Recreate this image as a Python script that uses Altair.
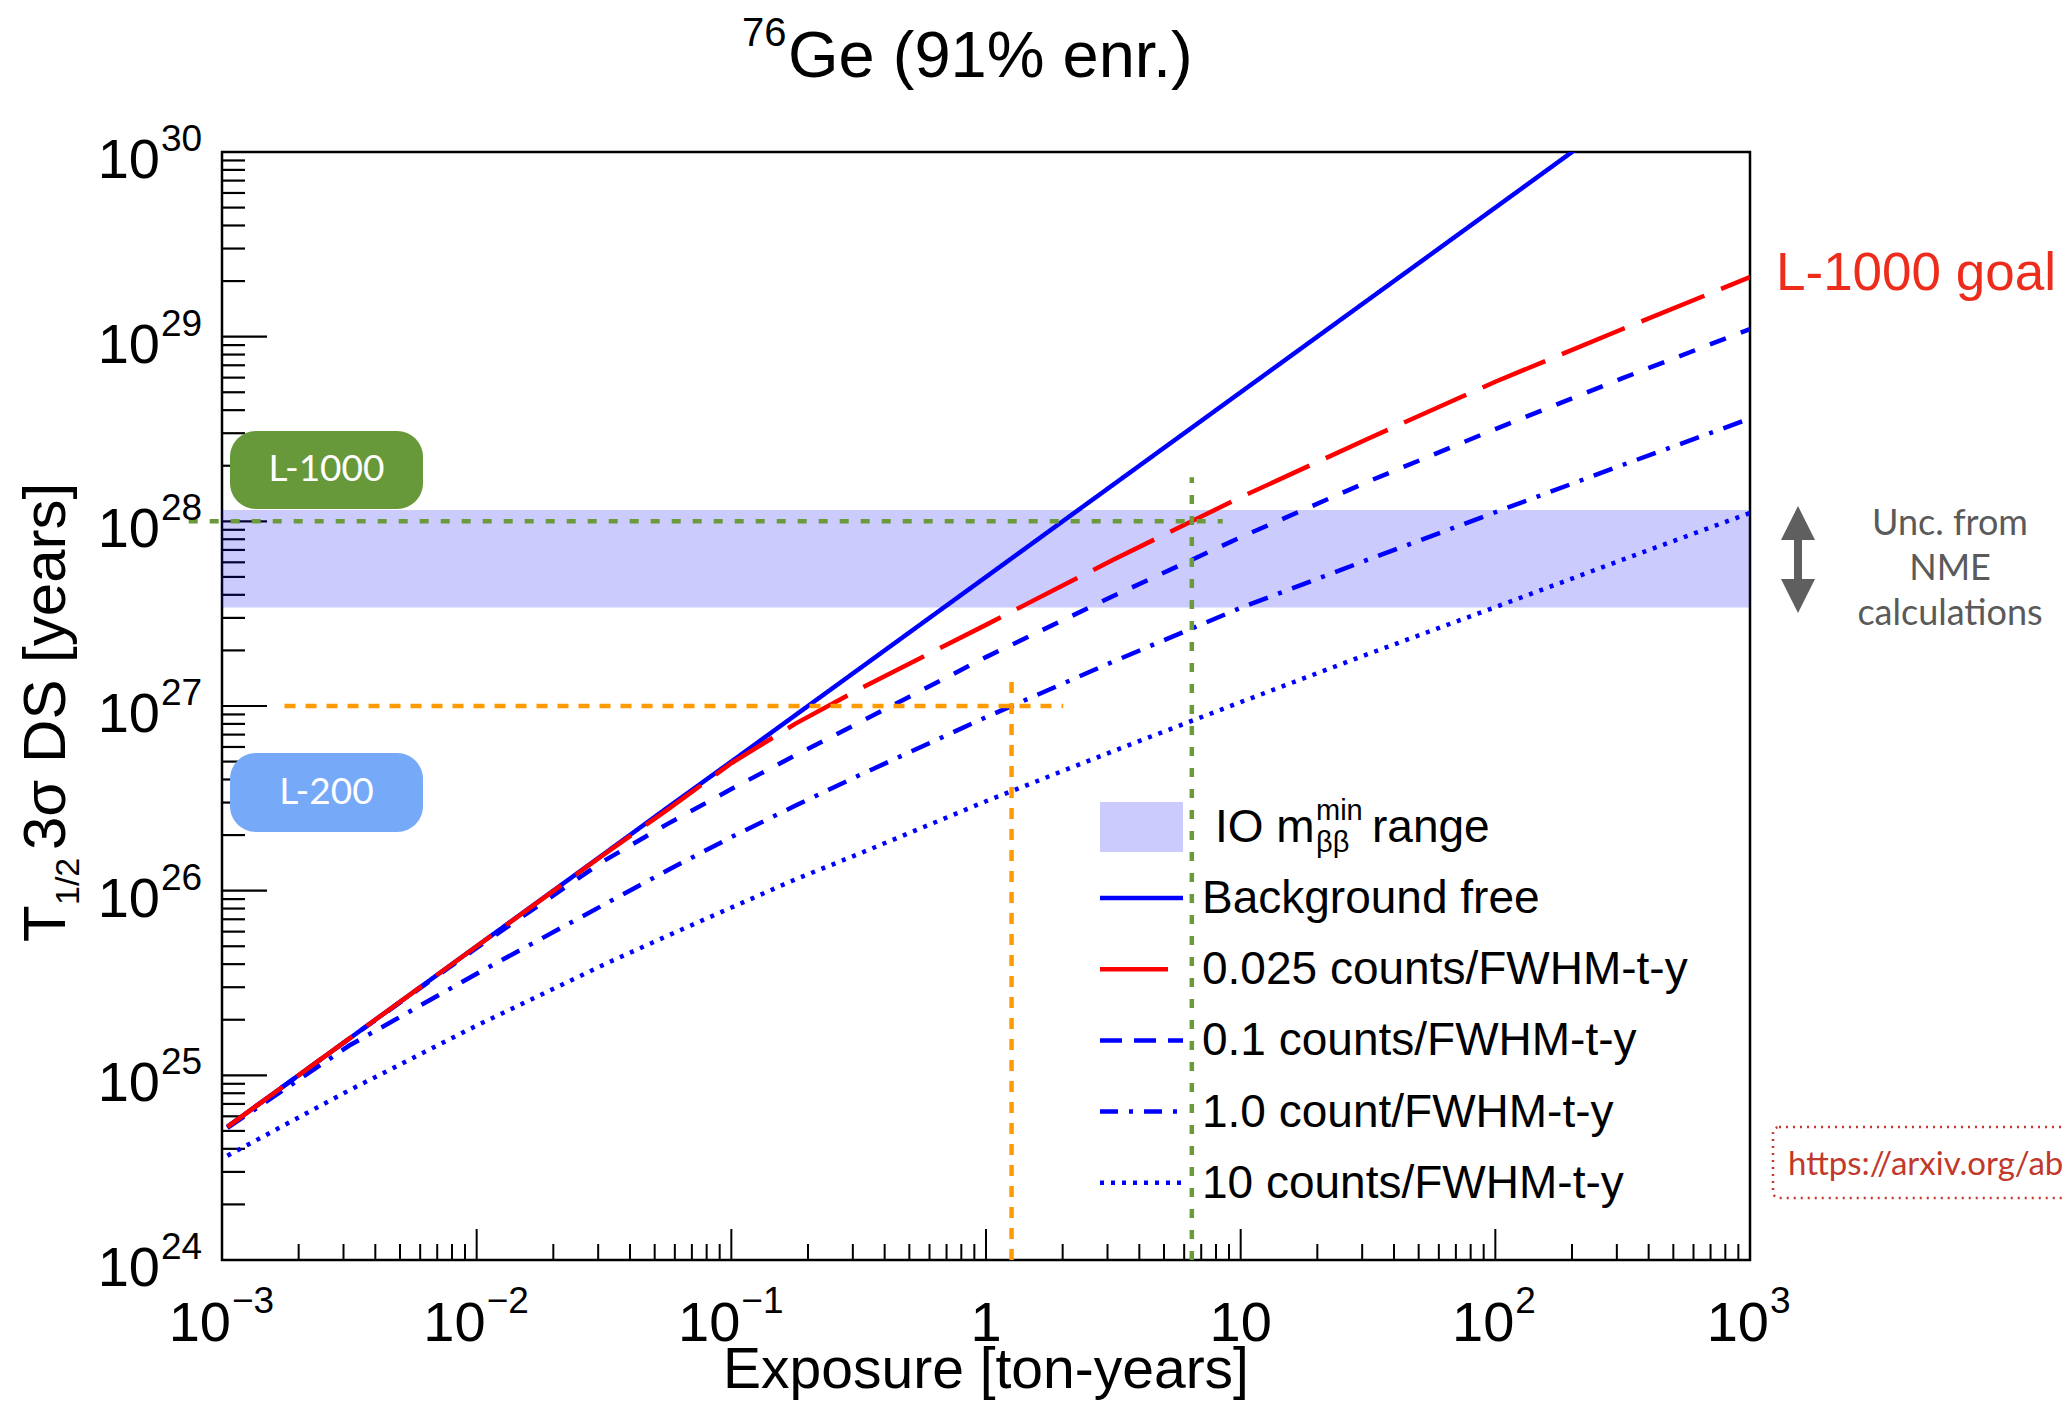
import altair as alt
import pandas as pd

# ---------------- data ----------------
exposure = [1.05e-3, 3.16e-3, 1.0e-2, 3.16e-2, 5.62e-2, 1.0e-1, 1.78e-1, 3.16e-1,
            1.0, 3.16, 10.0, 31.6, 100.0, 316.0, 1000.0]
t_bkg_free = [5.26e24, 1.58e25, 5.0e25, 1.58e26, 2.82e26, 5.0e26, 8.9e26, 1.58e27,
              5.0e27, 1.58e28, 5.0e28, 1.58e29, 5.0e29, 1.58e30, 5.0e30]
t_bkg_0025 = [5.26e24, 1.58e25, 5.0e25, 1.57e26, 2.75e26, 4.9e26, 8.0e26, 1.23e27,
              2.75e27, 6.2e27, 1.35e28, 2.8e28, 5.7e28, 1.10e29, 2.1e29]
t_bkg_01 = [5.26e24, 1.58e25, 4.9e25, 1.45e26, 2.3e26, 3.55e26, 5.4e26, 8.1e26,
            1.84e27, 3.94e27, 8.2e27, 1.64e28, 3.16e28, 5.96e28, 1.10e29]
t_bkg_1 = [5.19e24, 1.45e25, 3.55e25, 8.4e25, 1.29e26, 1.95e26, 2.88e26, 4.2e26,
           8.7e26, 1.74e27, 3.4e27, 6.2e27, 1.12e28, 2.02e28, 3.6e28]
t_bkg_10 = [3.67e24, 8.3e24, 1.86e25, 3.98e25, 5.7e25, 8.1e25, 1.15e26, 1.58e26,
            3.05e26, 5.7e26, 1.05e27, 1.91e27, 3.43e27, 6.2e27, 1.11e28]

series_names = ["Background free", "0.025 counts/FWHM-t-y", "0.1 counts/FWHM-t-y",
                "1.0 count/FWHM-t-y", "10 counts/FWHM-t-y"]
series_values = [t_bkg_free, t_bkg_0025, t_bkg_01, t_bkg_1, t_bkg_10]

io_band_low = 3.42e27
io_band_high = 1.15e28

# reference (goal) lines: L-1000 (green) and L-200 (orange)
l1000_h = {"E0": 7.4e-4, "E1": 8.5, "T0": 1e28, "T1": 1e28}
l1000_v = {"E0": 6.43, "E1": 6.43, "T0": 1e24, "T1": 1.73e28}
l200_h = {"E0": 1.76e-3, "E1": 2.01, "T0": 1e27, "T1": 1e27}
l200_v = {"E0": 1.26, "E1": 1.26, "T0": 1e24, "T1": 1.5e27}

x_tick_values = [1e-3, 1e-2, 1e-1, 1.0, 10.0, 1e2, 1e3]
x_tick_base = ["10", "10", "10", "1", "10", "10", "10"]
x_tick_exp = ["\u22123", "\u22122", "\u22121", "", "", "2", "3"]
y_tick_exponents = [24, 25, 26, 27, 28, 29, 30]

# ---------------- styles ----------------
W, H = 1528, 1108
ARIAL = "Liberation Sans, Arial, Helvetica, sans-serif"
GILL = "Lato, Open Sans, sans-serif"

series_colors = ["#0000ff", "#ff0000", "#0000ff", "#0000ff", "#0000ff"]
series_dash = [[1, 0], [68, 18], [17, 16], [20, 11, 4, 11], [4, 7]]
legend_dash = [[1, 0], [68, 18], [22, 12], [18, 11, 4, 11], [4, 7]]
GREEN = "#6a9a3a"
ORANGE = "#ff9a00"
BAND = "#0a0af5"

xs = alt.Scale(type="log", domain=[1e-3, 1e3], nice=False)
ys = alt.Scale(type="log", domain=[1e24, 1e30], nice=False)


def X(f):
    return alt.X(f, type="quantitative", scale=xs, axis=None)


def Y(f):
    return alt.Y(f, type="quantitative", scale=ys, axis=None)


one = pd.DataFrame({"d": [0]})


def txt(s, x, y, size, color="black", font=ARIAL, align="left",
        baseline="alphabetic", angle=None, dx=0, dy=0):
    kw = dict(text=s, fontSize=size, fill=color, font=font, align=align,
              baseline=baseline, dx=dx, dy=dy)
    if angle is not None:
        kw["angle"] = angle
    return alt.Chart(one).mark_text(**kw).encode(x=alt.value(x), y=alt.value(y))


layers = []

# ---------------- ticks (inside the frame) ----------------
y_major = pd.DataFrame({"T": [10.0 ** e for e in y_tick_exponents]})
y_minor = pd.DataFrame({"T": [k * 10.0 ** e for e in y_tick_exponents[:-1] for k in range(2, 10)]})
x_major = pd.DataFrame({"E": x_tick_values})
x_minor = pd.DataFrame({"E": [k * v for v in x_tick_values[:-1] for k in range(2, 10)]})

layers.append(alt.Chart(y_major).mark_rule(color="black", strokeWidth=2.2).encode(
    y=Y("T"), x=alt.value(0), x2=alt.value(45)))
layers.append(alt.Chart(y_minor).mark_rule(color="black", strokeWidth=2.2).encode(
    y=Y("T"), x=alt.value(0), x2=alt.value(23)))
layers.append(alt.Chart(x_major).mark_rule(color="black", strokeWidth=2).encode(
    x=X("E"), y=alt.value(H), y2=alt.value(H - 31)))
layers.append(alt.Chart(x_minor).mark_rule(color="black", strokeWidth=2).encode(
    x=X("E"), y=alt.value(H), y2=alt.value(H - 16)))

# ---------------- IO band ----------------
band_df = pd.DataFrame({"E0": [1e-3], "E1": [1e3], "T0": [io_band_low], "T1": [io_band_high]})
layers.append(alt.Chart(band_df).mark_rect(color=BAND, opacity=0.21).encode(
    x=X("E0"), x2=alt.X2("E1"), y=Y("T0"), y2=alt.Y2("T1")))

# ---------------- badges ----------------
layers.append(alt.Chart(one).mark_rect(color="#67993a", cornerRadius=26).encode(
    x=alt.value(8), x2=alt.value(201), y=alt.value(279), y2=alt.value(357)))
layers.append(alt.Chart(one).mark_rect(color="#76a9f8", cornerRadius=26).encode(
    x=alt.value(8), x2=alt.value(201), y=alt.value(601), y2=alt.value(680)))
layers.append(txt("L-1000", 104.5, 318, 37, color="white", font=GILL, align="center", baseline="middle"))
layers.append(txt("L-200", 104.5, 641, 37, color="white", font=GILL, align="center", baseline="middle"))

# ---------------- curves ----------------
rows = []
for name, vals in zip(series_names, series_values):
    for e, t in zip(exposure, vals):
        rows.append({"series": name, "E": e, "T": t})
curves_df = pd.DataFrame(rows)

draw_order = [0, 2, 3, 4, 1]
for i in draw_order:
    layers.append(
        alt.Chart(curves_df).transform_filter(alt.datum.series == series_names[i])
        .mark_line(clip=True, color=series_colors[i], strokeDash=series_dash[i], strokeWidth=4.5)
        .encode(x=X("E"), y=Y("T"))
    )

# ---------------- goal reference lines ----------------
green_df = pd.DataFrame([l1000_h, l1000_v])
orange_df = pd.DataFrame([l200_h, l200_v])
layers.append(alt.Chart(green_df).mark_rule(color=GREEN, strokeWidth=4.5, strokeDash=[9, 12]).encode(
    x=X("E0"), x2=alt.X2("E1"), y=Y("T0"), y2=alt.Y2("T1")))
layers.append(alt.Chart(orange_df).mark_rule(color=ORANGE, strokeWidth=4.5, strokeDash=[11, 10]).encode(
    x=X("E0"), x2=alt.X2("E1"), y=Y("T0"), y2=alt.Y2("T1")))

# ---------------- axis labels ----------------
ylab = pd.DataFrame({"T": [10.0 ** e for e in y_tick_exponents],
                     "exp": [str(e) for e in y_tick_exponents]})
layers.append(alt.Chart(ylab).mark_text(text="10", font=ARIAL, fontSize=56, align="right",
                                        baseline="alphabetic", dy=26, fill="black").encode(
    y=Y("T"), x=alt.value(-62)))
layers.append(alt.Chart(ylab).mark_text(font=ARIAL, fontSize=37, align="left",
                                        baseline="alphabetic", dy=-1, fill="black").encode(
    y=Y("T"), x=alt.value(-61), text="exp:N"))

xlab = pd.DataFrame({"E": x_tick_values, "base": x_tick_base, "exp": x_tick_exp})
xneg = xlab[xlab["exp"].str.startswith("\u2212")]
xpos = xlab[(xlab["exp"] != "") & (~xlab["exp"].str.startswith("\u2212"))]
xplain = xlab[xlab["exp"] == ""]
XL_Y = 1189
XS_Y = 1161
XF = 56
XSF = 37
layers.append(alt.Chart(xneg).mark_text(font=ARIAL, fontSize=XF, align="right", baseline="alphabetic",
                                        dx=9, fill="black").encode(
    x=X("E"), y=alt.value(XL_Y), text="base:N"))
layers.append(alt.Chart(xneg).mark_text(font=ARIAL, fontSize=XSF, align="left", baseline="alphabetic",
                                        dx=10, fill="black").encode(
    x=X("E"), y=alt.value(XS_Y), text="exp:N"))
layers.append(alt.Chart(xpos).mark_text(font=ARIAL, fontSize=XF, align="right", baseline="alphabetic",
                                        dx=19, fill="black").encode(
    x=X("E"), y=alt.value(XL_Y), text="base:N"))
layers.append(alt.Chart(xpos).mark_text(font=ARIAL, fontSize=XSF, align="left", baseline="alphabetic",
                                        dx=20, fill="black").encode(
    x=X("E"), y=alt.value(XS_Y), text="exp:N"))
layers.append(alt.Chart(xplain).mark_text(font=ARIAL, fontSize=XF, align="center", baseline="alphabetic",
                                          fill="black").encode(
    x=X("E"), y=alt.value(XL_Y), text="base:N"))

# axis titles
layers.append(txt("Exposure [ton-years]", W / 2, 1236, 57, align="center"))
YT_X, YT_Y = -157, 790
layers.append(txt("T", YT_X, YT_Y, 60, angle=270))
layers.append(txt("1/2", YT_X, YT_Y, 34, angle=270, dx=37, dy=14))
layers.append(txt("3\u03c3 DS [years]", YT_X, YT_Y, 60, angle=270, dx=92))

# title
layers.append(txt("76", 520, -106, 40))
layers.append(txt("Ge (91% enr.)", 566, -75, 65))

# ---------------- legend ----------------
layers.append(alt.Chart(one).mark_rect(color=BAND, opacity=0.21).encode(
    x=alt.value(878), x2=alt.value(961), y=alt.value(650), y2=alt.value(700)))
layers.append(txt("IO m", 993, 690, 46))
layers.append(txt("min", 1094, 668, 29))
layers.append(txt("\u03b2\u03b2", 1094, 700, 29))
layers.append(txt("range", 1150, 690, 46))
for i, name in enumerate(series_names):
    ly = 746 + 71.2 * i
    layers.append(alt.Chart(one).mark_rule(color=series_colors[i], strokeDash=legend_dash[i],
                                           strokeWidth=4.5).encode(
        x=alt.value(878), x2=alt.value(961), y=alt.value(ly)))
    layers.append(txt(name, 980, ly + 15, 46))

# ---------------- right-side annotations ----------------
layers.append(txt("L-1000 goal", 1554, 138, 53, color="#ee2c1c"))
ARROW = "#5f5f5f"
layers.append(alt.Chart(one).mark_rule(color=ARROW, strokeWidth=8).encode(
    x=alt.value(1576), y=alt.value(384), y2=alt.value(431)))
layers.append(alt.Chart(one).mark_point(shape="M-1,1L0,-1L1,1Z", size=1156, filled=True,
                                        color=ARROW, opacity=1).encode(
    x=alt.value(1576), y=alt.value(371)))
layers.append(alt.Chart(one).mark_point(shape="M-1,-1L0,1L1,-1Z", size=1156, filled=True,
                                        color=ARROW, opacity=1).encode(
    x=alt.value(1576), y=alt.value(444)))
layers.append(txt("Unc. from", 1728, 383, 36, color="#5a5a5a", font=GILL, align="center"))
layers.append(txt("NME", 1728, 428, 36, color="#5a5a5a", font=GILL, align="center"))
layers.append(txt("calculations", 1728, 473, 36, color="#5a5a5a", font=GILL, align="center"))

layers.append(alt.Chart(one).mark_rect(fill="white", fillOpacity=0, stroke="#c8372d", strokeWidth=2.5,
                                       strokeDash=[2, 5], cornerRadius=6).encode(
    x=alt.value(1551), x2=alt.value(1900), y=alt.value(975), y2=alt.value(1046)))
layers.append(txt("https://arxiv.org/abs/2107.11462", 1566, 1023, 33, color="#c0392b", font=GILL))

chart = alt.layer(*layers).properties(
    width=W, height=H,
    padding={"left": 214, "top": 144, "right": 314, "bottom": 140},
    autosize=alt.AutoSizeParams(type="none"),
).configure_view(stroke="black", strokeWidth=2.5)

chart.save("out.html", embed_options={"renderer": "svg", "actions": False})
